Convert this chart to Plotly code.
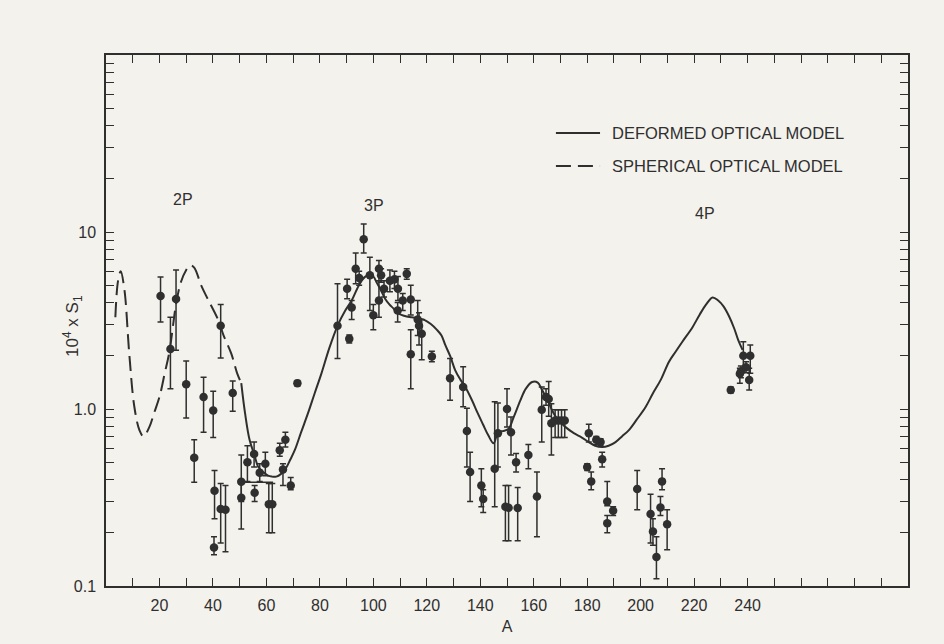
import numpy as np
import plotly.graph_objects as go

# Measured p-wave strength functions: mass number, value, upper and lower error limits
A_pts = [20.4, 24.1, 26.2, 30.0, 33.0, 36.5, 40.1, 40.6, 40.4, 42.9, 42.9, 44.7, 47.4,
         50.6, 50.6, 52.9, 55.4, 55.6, 57.5, 59.6, 60.9, 62.2, 65.0, 66.2, 67.1, 69.1, 71.6,
         86.6, 90.2, 91.0, 91.9, 93.4, 94.7, 96.4, 98.7, 100.0, 102.1, 102.9, 102.1, 104.0,
         106.2, 107.9, 109.2, 109.1, 111.0, 112.5, 114.0, 114.0, 116.6, 117.1, 118.1, 121.9,
         128.7, 133.6, 135.0, 136.2, 140.4, 141.1, 145.4, 146.6, 149.4, 150.0, 150.6, 151.5,
         153.4, 154.0, 158.0, 161.2, 163.0, 164.6, 165.6, 166.6, 168.0, 169.2, 170.4, 171.6,
         180.0, 180.6, 181.5, 183.4, 185.0, 185.6, 187.5, 187.5, 189.7, 198.7, 203.7, 204.6,
         205.9, 207.4, 208.0, 209.9,
         233.7, 237.1, 237.5, 238.4, 239.4, 240.6, 241.0]
S_pts = [4.35, 2.18, 4.18, 1.38, 0.53, 1.17, 0.98, 0.345, 0.165, 2.95, 0.272, 0.27, 1.23,
         0.388, 0.315, 0.50, 0.557, 0.336, 0.437, 0.49, 0.29, 0.29, 0.585, 0.455, 0.67, 0.37, 1.40,
         2.95, 4.78, 2.49, 3.75, 6.2, 5.5, 9.1, 5.7, 3.39, 6.2, 5.7, 4.1, 4.78,
         5.3, 5.4, 4.78, 3.6, 4.1, 5.8, 4.15, 2.04, 3.2, 2.95, 2.66, 1.98,
         1.49, 1.33, 0.75, 0.44, 0.37, 0.31, 0.46, 0.73, 0.28, 1.0, 0.277, 0.74,
         0.50, 0.276, 0.55, 0.32, 0.99, 1.17, 1.14, 0.83, 0.86, 0.86, 0.86, 0.86,
         0.47, 0.73, 0.39, 0.67, 0.65, 0.52, 0.30, 0.226, 0.266, 0.353, 0.255, 0.203,
         0.146, 0.278, 0.39, 0.223,
         1.28, 1.58, 1.63, 2.0, 1.72, 1.46, 2.0]
S_hi = [5.57, 3.3, 6.1, 1.87, 0.67, 1.51, 1.26, 0.45, 0.19, 3.9, 0.38, 0.37, 1.44,
        0.55, 0.38, 0.62, 0.65, 0.37, 0.49, 0.57, 0.38, 0.38, 0.64, 0.49, 0.74, 0.41, 1.45,
        5.1, 5.4, 2.62, 4.1, 7.6, 6.0, 11.1, 7.2, 3.9, 6.9, 6.2, 5.3, 5.3,
        6.1, 6.0, 5.6, 4.0, 4.5, 6.2, 5.0, 2.8, 4.1, 3.5, 3.2, 2.12,
        1.93, 1.73, 1.01, 0.57, 0.46, 0.35, 1.1, 1.08, 0.37, 1.3, 0.37, 0.9,
        0.56, 0.36, 0.63, 0.44, 1.33, 1.3, 1.43, 1.07, 0.99, 0.99, 0.99, 0.99,
        0.49, 0.82, 0.44, 0.70, 0.68, 0.57, 0.39, 0.25, 0.28, 0.45, 0.33, 0.24,
        0.19, 0.32, 0.46, 0.27,
        1.33, 1.70, 1.75, 2.4, 1.85, 1.70, 2.3]
S_lo = [3.1, 1.30, 2.15, 0.89, 0.385, 0.74, 0.69, 0.24, 0.15, 1.94, 0.175, 0.156, 0.97,
        0.30, 0.21, 0.39, 0.47, 0.30, 0.39, 0.42, 0.20, 0.20, 0.54, 0.37, 0.61, 0.35, 1.35,
        1.93, 4.2, 2.36, 3.2, 5.1, 5.0, 7.6, 3.6, 2.8, 5.3, 5.2, 3.3, 4.3,
        4.6, 4.8, 4.1, 3.1, 3.6, 5.4, 3.4, 1.3, 2.6, 2.3, 1.9, 1.85,
        1.12, 1.03, 0.47, 0.30, 0.28, 0.26, 0.28, 0.47, 0.18, 0.79, 0.18, 0.55,
        0.44, 0.18, 0.46, 0.19, 0.65, 1.05, 0.91, 0.55, 0.69, 0.69, 0.69, 0.69,
        0.45, 0.65, 0.35, 0.63, 0.62, 0.47, 0.284, 0.20, 0.25, 0.27, 0.175, 0.17,
        0.11, 0.25, 0.35, 0.16,
        1.23, 1.40, 1.50, 1.7, 1.60, 1.28, 1.59]

# Averaged value over the A = 50-62 range
A_avg = [50.6, 62.5]
S_avg = [0.385, 0.385]

# Spherical optical model curve
A_sph = [3.5, 4.5, 5.5, 6.9, 8.7, 10.6, 12.5, 14.0, 16.2, 18.0, 20.0, 22.0, 23.7, 26.2,
         28.0, 30.0, 31.5, 33.0, 35.6, 38.0, 41.9, 44.0, 46.9, 49.0, 50.6]
S_sph = [3.3, 5.3, 6.0, 4.7, 2.05, 1.03, 0.76, 0.70, 0.79, 0.95, 1.17, 1.6, 2.1, 3.9,
         5.2, 6.1, 6.5, 6.3, 5.0, 4.2, 3.2, 2.6, 2.05, 1.6, 1.4]

# Deformed optical model curve
A_def = [50.6, 52.0, 53.7, 55.5, 57.0, 58.8, 60.6, 62.0, 63.7, 65.5, 67.0, 69.0, 70.6, 73.0,
         75.6, 78.0, 80.6, 83.5, 86.6, 89.5, 91.9, 94.0, 95.6, 97.0, 98.5, 100.0, 101.2, 102.8,
         104.4, 106.0, 107.5, 109.0, 110.5, 112.5, 114.4, 117.0, 119.4, 121.5, 123.8, 125.5,
         126.9, 128.8, 130.6, 132.5, 134.4, 136.9, 139.0, 141.0, 143.0, 145.0, 146.7, 148.5,
         150.5, 152.5, 155.0, 157.0, 159.4, 161.5, 163.1, 165.0, 166.9, 169.0, 171.9, 175.0,
         178.0, 180.6, 183.0, 185.6, 188.0, 190.6, 193.0, 195.6, 198.5, 201.9, 204.5, 207.5,
         210.6, 213.0, 215.6, 219.4, 222.0, 224.5, 226.9, 229.0, 231.0, 233.1, 235.0, 236.5,
         238.1]
S_def = [1.40, 0.95, 0.67, 0.55, 0.47, 0.44, 0.42, 0.415, 0.415, 0.43, 0.455, 0.52, 0.585, 0.74,
         0.95, 1.22, 1.59, 2.2, 2.95, 3.6, 4.1, 4.8, 5.3, 5.6, 5.7, 5.6, 5.2, 4.7,
         4.2, 3.9, 3.7, 3.5, 3.4, 3.33, 3.3, 3.25, 3.17, 3.02, 2.8, 2.6,
         2.3, 1.98, 1.66, 1.47, 1.33, 1.12, 0.95, 0.82, 0.71, 0.64, 0.74, 0.75,
         0.77, 0.9, 1.12, 1.3, 1.42, 1.41, 1.28, 1.14, 0.98, 0.87, 0.79, 0.73,
         0.69, 0.65, 0.62, 0.61, 0.62, 0.65, 0.70, 0.76, 0.87, 1.03, 1.22, 1.46,
         1.85, 2.1, 2.4, 2.9, 3.4, 3.9, 4.27, 4.1, 3.8, 3.33, 2.85, 2.45,
         2.16]

# Shell labels
shell_labels = ["2P", "3P", "4P"]
shell_A = [28.9, 100.1, 224.2]
shell_S = [15.2, 14.2, 12.8]

legend_names = ["DEFORMED OPTICAL MODEL", "SPHERICAL OPTICAL MODEL"]

x_major = list(range(10, 300, 10))
x_labels = [str(v) if 20 <= v <= 240 and v % 20 == 0 else "" for v in x_major]
y_ticks = [m * 10.0 ** e for e in (-1, 0, 1) for m in range(1, 10)] + [100.0]
y_labels = {0.1: "0.1", 1.0: "1.0", 10.0: "10"}
y_text = [y_labels.get(round(v, 6), "") for v in y_ticks]

INK = "#2f2f2f"
PAPER = "#f4f2ed"
FONT = "Liberation Sans"
FS = 16

S_arr = np.array(S_pts)
err_plus = np.array(S_hi) - S_arr
err_minus = S_arr - np.array(S_lo)

fig = go.Figure()

fig.add_trace(go.Scatter(
    x=A_sph, y=S_sph, mode="lines", line_shape="spline",
    line=dict(color=INK, width=2, dash="15px,7px"), showlegend=False))
fig.add_trace(go.Scatter(
    x=A_def, y=S_def, mode="lines", line_shape="spline",
    line=dict(color=INK, width=2), showlegend=False))
fig.add_trace(go.Scatter(
    x=A_avg, y=S_avg, mode="lines", line=dict(color=INK, width=1.5), showlegend=False))
fig.add_trace(go.Scatter(
    x=A_pts, y=S_pts, mode="markers",
    marker=dict(color=INK, size=8.5, symbol="circle"),
    error_y=dict(type="data", symmetric=False, array=err_plus, arrayminus=err_minus,
                 color=INK, thickness=1.5, width=3),
    showlegend=False))

for lab, ax_, sy in zip(shell_labels, shell_A, shell_S):
    fig.add_annotation(x=ax_, y=np.log10(sy), text=lab, showarrow=False,
                       font=dict(family=FONT, size=FS, color=INK))

# Legend drawn as line samples with text
legend_y = [0.853, 0.791]
legend_dash = ["solid", "15px,7px"]
for name, ly, dash in zip(legend_names, legend_y, legend_dash):
    fig.add_shape(type="line", xref="paper", yref="paper", x0=0.561, x1=0.616, y0=ly, y1=ly,
                  line=dict(color=INK, width=2, dash=dash))
    fig.add_annotation(xref="paper", yref="paper", x=0.629, y=ly, text=name, showarrow=False,
                       xanchor="left", yanchor="middle",
                       font=dict(family=FONT, size=16.5, color=INK))

# Vertical axis title
fig.add_annotation(xref="paper", yref="paper", x=-0.041, y=0.49, text="10<sup>4</sup> x S<sub>1</sub>",
                   textangle=-90, showarrow=False, xanchor="center", yanchor="middle",
                   font=dict(family=FONT, size=17, color=INK))

axis_common = dict(showline=True, linecolor=INK, linewidth=1.5, mirror="ticks",
                   ticks="inside", ticklen=8, tickwidth=1.3, tickcolor=INK,
                   showgrid=False, zeroline=False,
                   tickfont=dict(family=FONT, size=FS, color=INK))

fig.update_xaxes(range=[0, 300], tickmode="array", tickvals=x_major, ticktext=x_labels,
                 title=dict(text="A", font=dict(family=FONT, size=FS, color=INK), standoff=8),
                 ticklabelstandoff=4, **axis_common)
fig.update_yaxes(type="log", range=[-1, 2], tickmode="array", tickvals=y_ticks, ticktext=y_text,
                 ticklabelstandoff=5, **axis_common)

fig.update_layout(width=944, height=644, paper_bgcolor=PAPER, plot_bgcolor=PAPER,
                  margin=dict(l=106, r=36, t=55, b=58), showlegend=False)

fig.write_html("out.html")
